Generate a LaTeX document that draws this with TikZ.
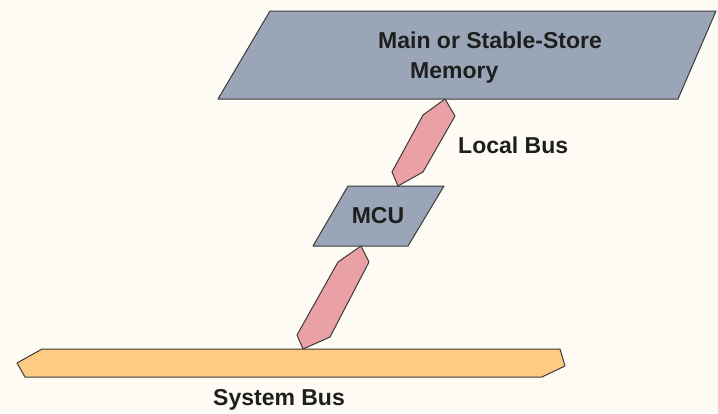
\documentclass[tikz,border=0pt]{standalone}
\usepackage{fontspec}
\setmainfont{Liberation Sans}
\definecolor{paper}{HTML}{FDFBF4}
\definecolor{slate}{HTML}{9AA6B8}
\definecolor{busPink}{HTML}{E9A1A5}
\definecolor{busOrange}{HTML}{FDCB84}
\definecolor{edge}{HTML}{3C3A3A}
\definecolor{ink}{HTML}{1E1E1E}
\tikzset{
  unit/.style={fill=slate, draw=edge, line width=1pt, line join=round},
  localbus/.style={fill=busPink, draw=edge, line width=1pt, line join=round},
  sysbus/.style={fill=busOrange, draw=edge, line width=1pt, line join=round},
  lbl/.style={inner sep=0pt, anchor=base west, text=ink, font=\bfseries\fontsize{23}{30}\selectfont},
}
\begin{document}
\begin{tikzpicture}[x=1pt, y=-1pt]
  % canvas
  \fill[paper] (0,0) rectangle (718,413);
  \useasboundingbox (0,0) rectangle (718,413);

  % memory block
  \draw[unit] (270,11) -- (716,11) -- (678,99) -- (218,99) -- cycle;
  % MCU block
  \draw[unit] (348,186) -- (444,186) -- (408,246) -- (313,246) -- cycle;
  % local bus between memory and MCU
  \draw[localbus] (445,99) -- (455,116) -- (423,172) -- (398,186) -- (392,172) -- (423,115) -- cycle;
  % link from MCU down to the system bus
  \draw[localbus] (361,246) -- (369,262) -- (330,337) -- (303,349) -- (297,335) -- (338,262) -- cycle;
  % system bus
  \draw[sysbus] (17,363) -- (42,349) -- (560,349) -- (565,366) -- (542,377) -- (25,377) -- cycle;

  % labels
  \node[lbl] (memA) at (378,48) {Main or Stable-Store};
  \node[lbl] (memB) at (410,78) {Memory};
  \node[lbl, anchor=base] (mcu) at (378,223) {MCU};
  \node[lbl] (local) at (458,153) {Local Bus};
  \node[lbl] (sys) at (213,405) {System Bus};
\end{tikzpicture}
\end{document}
